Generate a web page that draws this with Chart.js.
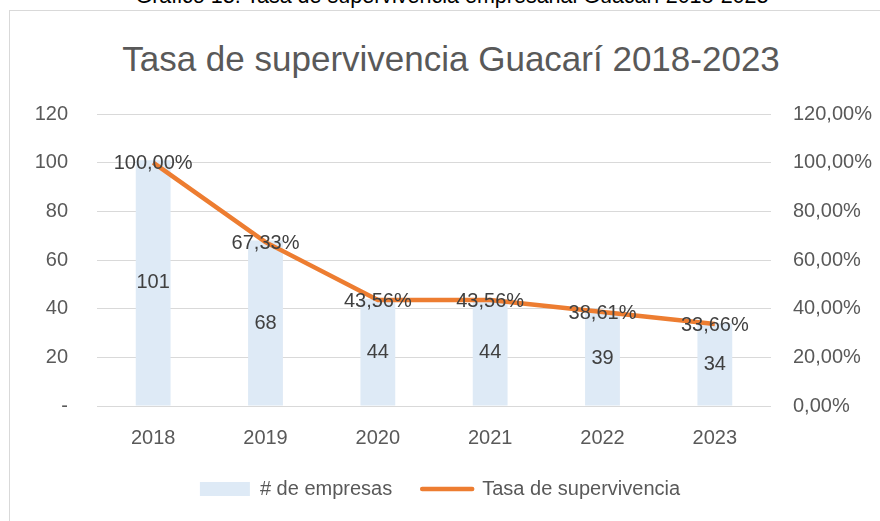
<!DOCTYPE html>
<html>
<head>
<meta charset="utf-8">
<script src="https://cdn.jsdelivr.net/npm/chart.js@4/dist/chart.umd.min.js"></script>
<style>
  html, body { margin: 0; padding: 0; background: #fff; overflow: hidden; }
  body { width: 880px; height: 521px; position: relative; }
  #caption {
    position: absolute; left: 12px; top: -14px; width: 880px; text-align: center;
    font: 21.5px "Liberation Sans", Arial, sans-serif; line-height: 21px; color: #000;
  }
  #frame {
    position: absolute; left: 9px; top: 10px; width: 900px; height: 530px;
    border: 1px solid #d9d9d9; box-sizing: border-box;
  }
  #title {
    position: absolute; left: 0; top: 38px; width: 902px; text-align: center;
    font: 35px "Liberation Sans", Arial, sans-serif; line-height: 42px; color: #595959;
  }
  #wrap { position: absolute; left: 0; top: 0; width: 880px; height: 521px; }
</style>
</head>
<body>
<div id="caption">Gráfico 13. Tasa de supervivencia empresarial Guacarí 2018-2023</div>
<div id="frame"></div>
<div id="title">Tasa de supervivencia Guacarí 2018-2023</div>
<div id="wrap"><canvas id="chart"></canvas></div>
<script>
// Datos
const years = ['2018', '2019', '2020', '2021', '2022', '2023'];
const empresas = [101, 68, 44, 44, 39, 34];
const tasa = [1.0, 0.6733, 0.4356, 0.4356, 0.3861, 0.3366];
const leftTicks = [0, 20, 40, 60, 80, 100, 120];

const FONT = '"Liberation Sans", Arial, sans-serif';
const BAR_COLOR = '#deeaf6';
const LINE_COLOR = '#ed7d31';
const TEXT_COLOR = '#595959';

const fmtPct = v => (v * 100).toFixed(2).replace('.', ',') + '%';

// Etiquetas de datos (barras en el centro, línea sobre el punto)
const valueLabels = {
    id: 'valueLabels',
    afterDatasetsDraw(chart) {
        const ctx = chart.ctx;
        ctx.save();
        ctx.font = '20px ' + FONT;
        ctx.fillStyle = '#404040';
        ctx.textAlign = 'center';
        ctx.textBaseline = 'middle';
        chart.getDatasetMeta(0).data.forEach((bar, i) => {
            ctx.fillText(String(empresas[i]), bar.x, (bar.y + bar.base) / 2);
        });
        chart.getDatasetMeta(1).data.forEach((pt, i) => {
            ctx.fillText(fmtPct(tasa[i]), pt.x, pt.y + 1);
        });
        ctx.restore();
    }
};

Chart.defaults.font.family = FONT;
Chart.defaults.color = TEXT_COLOR;

new Chart(document.getElementById('chart'), {
    data: {
        labels: years,
        datasets: [
            {
                type: 'bar',
                label: '# de empresas',
                data: empresas,
                backgroundColor: BAR_COLOR,
                borderWidth: 0,
                barPercentage: 0.31,
                categoryPercentage: 1,
                yAxisID: 'y',
                order: 1
            },
            {
                type: 'line',
                label: 'Tasa de supervivencia',
                data: tasa,
                borderColor: LINE_COLOR,
                backgroundColor: LINE_COLOR,
                borderWidth: 4.5,
                pointRadius: 0,
                tension: 0,
                yAxisID: 'y1',
                order: 0
            }
        ]
    },
    options: {
        responsive: true,
        maintainAspectRatio: false,
        animation: false,
        layout: { padding: { left: 0, right: 0, top: 114, bottom: 12 } },
        plugins: {
            tooltip: { enabled: false },
            title: { display: false },
            legend: {
                position: 'bottom',
                labels: {
                    usePointStyle: true,
                    pointStyleWidth: 50,
                    boxHeight: 14,
                    padding: 30,
                    color: TEXT_COLOR,
                    font: { size: 20 },
                    sort: (a, b) => a.datasetIndex - b.datasetIndex,
                    generateLabels: chart => chart.data.datasets.map((ds, i) => ({
                        text: ds.label,
                        datasetIndex: i,
                        hidden: false,
                        fillStyle: ds.type === 'bar' ? BAR_COLOR : LINE_COLOR,
                        strokeStyle: ds.type === 'bar' ? BAR_COLOR : LINE_COLOR,
                        lineWidth: ds.type === 'bar' ? 0 : 4.5,
                        lineCap: 'round',
                        pointStyle: ds.type === 'bar' ? 'rect' : 'line',
                        fontColor: TEXT_COLOR
                    }))
                }
            }
        },
        scales: {
            x: {
                grid: { display: false, drawTicks: false },
                border: { display: false },
                ticks: { padding: 20, font: { size: 20 }, color: TEXT_COLOR },
                afterFit: s => { s.height = 43; }
            },
            y: {
                position: 'left',
                min: 0,
                max: 120,
                afterBuildTicks: s => { s.ticks = leftTicks.map(v => ({ value: v })); },
                grid: { color: '#d9d9d9', lineWidth: 1, drawTicks: false },
                border: { display: false },
                ticks: {
                    padding: 29,
                    font: { size: 20 },
                    color: TEXT_COLOR,
                    callback: v => v === 0 ? '-' : String(v)
                },
                afterFit: s => { s.width = 97; }
            },
            y1: {
                position: 'right',
                min: 0,
                max: 1.2,
                afterBuildTicks: s => { s.ticks = leftTicks.map(v => ({ value: v / 100 })); },
                grid: { display: false, drawTicks: false },
                border: { display: false },
                ticks: {
                    padding: 22,
                    font: { size: 20 },
                    color: TEXT_COLOR,
                    callback: v => fmtPct(v)
                },
                afterFit: s => { s.width = 109; }
            }
        }
    },
    plugins: [valueLabels]
});
</script>
</body>
</html>
